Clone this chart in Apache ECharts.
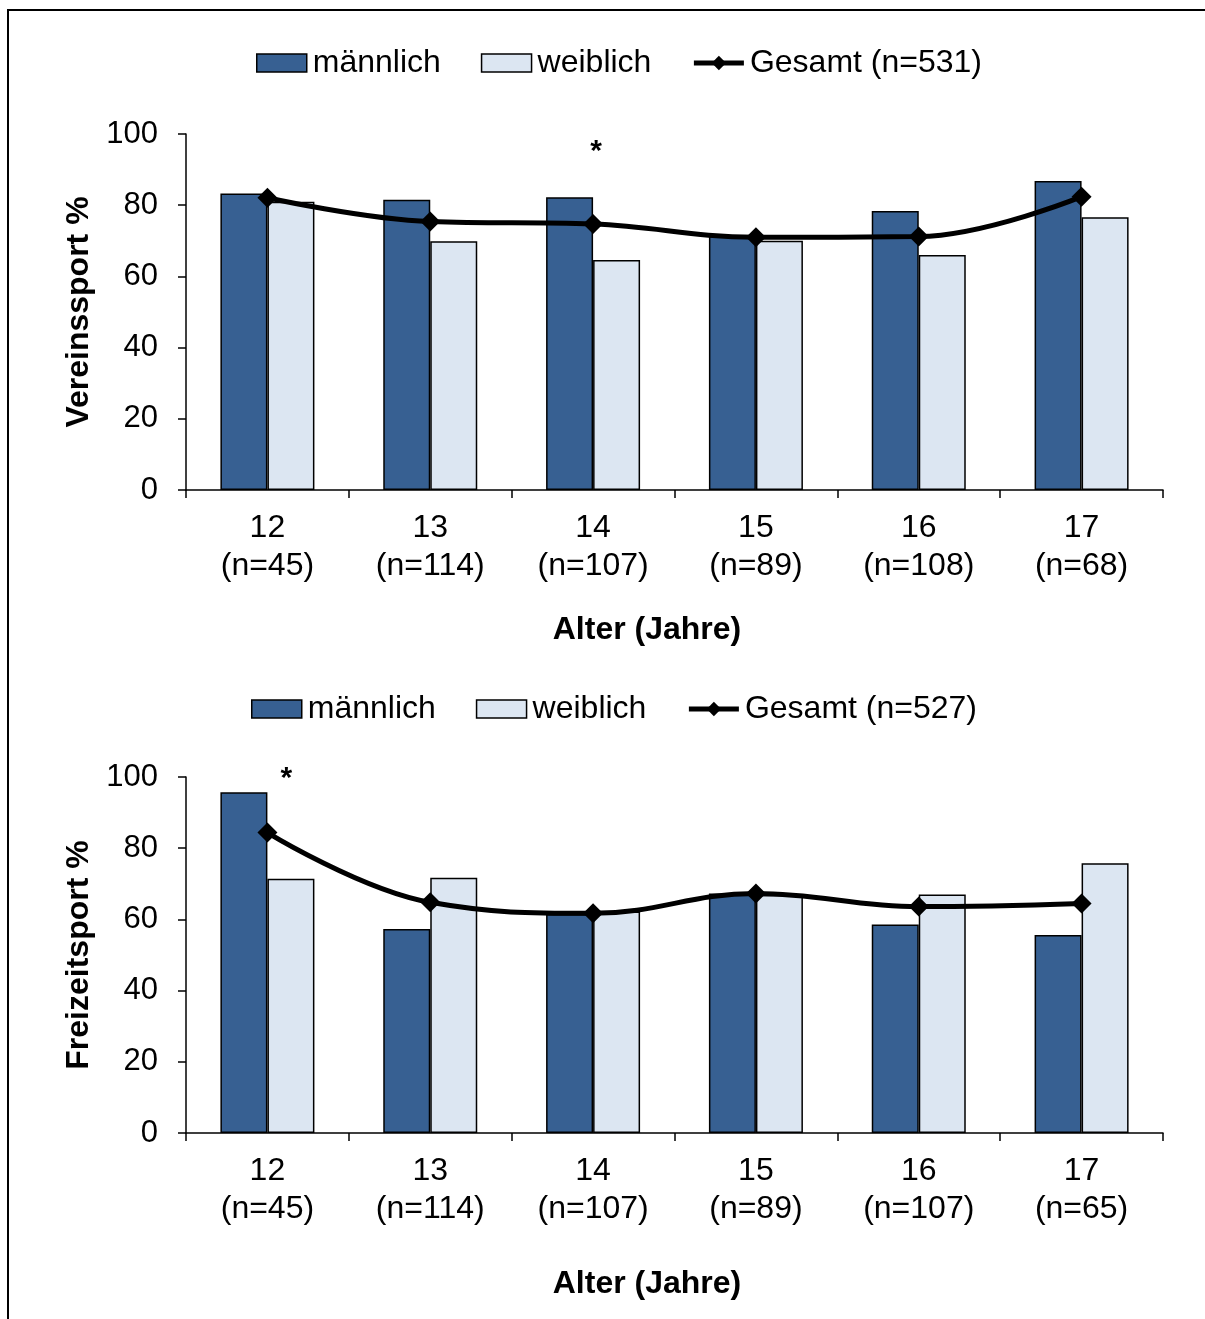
<!DOCTYPE html>
<html>
<head>
<meta charset="utf-8">
<script src="https://cdn.jsdelivr.net/npm/echarts@6/dist/echarts.min.js"></script>
<style>
html,body{margin:0;padding:0;background:#fff;}
#c{width:1205px;height:1319px;}
#frame{position:absolute;left:7px;top:9px;width:1300px;height:1400px;border-left:2px solid #000;border-top:2px solid #000;pointer-events:none;}
</style>
</head>
<body>
<div id="c"></div>
<div id="frame"></div>
<script>
// ---- data ----
const ages = ['12', '13', '14', '15', '16', '17'];
const nVerein = [45, 114, 107, 89, 108, 68];
const nFreizeit = [45, 114, 107, 89, 107, 65];

const vereinMaennlich = [83.3, 81.5, 82.2, 71.5, 78.4, 86.8];
const vereinWeiblich = [81.0, 69.9, 64.6, 70.0, 66.0, 76.6];
const vereinGesamt = [82.1, 75.4, 74.7, 71.0, 71.2, 82.4];

const freizeitMaennlich = [95.7, 57.3, 61.5, 67.3, 58.6, 55.6];
const freizeitWeiblich = [71.4, 71.7, 62.2, 66.9, 67.0, 75.8];
const freizeitGesamt = [84.4, 64.8, 61.7, 67.3, 63.6, 64.5];

const yTicks = [0, 20, 40, 60, 80, 100];
const nameGesamtTop = 'Gesamt (n=531)';
const nameGesamtBottom = 'Gesamt (n=527)';

// ---- styles ----
const FONT = '"Liberation Sans", Arial, sans-serif';
const MALE = '#376092';
const FEMALE = '#DCE6F2';

const catsTop = ages.map((a, i) => a + '\n(n=' + nVerein[i] + ')');
const catsBottom = ages.map((a, i) => a + '\n(n=' + nFreizeit[i] + ')');

function xAxisFor(gridIndex, cats, gap) {
  return {
    type: 'category', gridIndex: gridIndex, data: cats, boundaryGap: true,
    axisLine: {show: true, lineStyle: {color: '#000', width: 1.5}},
    axisTick: {show: true, length: 8, lineStyle: {color: '#000', width: 1.5}, alignWithLabel: false},
    axisLabel: {color: '#000', fontFamily: FONT, fontSize: 32, lineHeight: 38, margin: 19},
    name: 'Alter (Jahre)', nameLocation: 'middle', nameGap: gap,
    nameTextStyle: {color: '#000', fontFamily: FONT, fontSize: 32, fontWeight: 'bold', padding: [0, 55, 0, 0]}
  };
}
function yAxisFor(gridIndex, name) {
  return {
    type: 'value', gridIndex: gridIndex, min: yTicks[0], max: yTicks[yTicks.length - 1], interval: 20,
    axisLine: {show: true, lineStyle: {color: '#000', width: 1.5}},
    axisTick: {show: true, length: 8, lineStyle: {color: '#000', width: 1.5}},
    splitLine: {show: false},
    axisLabel: {color: '#000', fontFamily: FONT, fontSize: 31, margin: 28},
    name: name, nameLocation: 'middle', nameGap: 85, nameRotate: 90,
    nameTextStyle: {color: '#000', fontFamily: FONT, fontSize: 32, fontWeight: 'bold'}
  };
}
function barSeries(name, data, color, idx) {
  return {
    type: 'bar', name: name, data: data, xAxisIndex: idx, yAxisIndex: idx,
    barWidth: 47, barGap: '0%',
    itemStyle: {color: color, borderColor: '#000', borderWidth: 1.5},
    emphasis: {disabled: true}
  };
}
function lineSeries(name, data, idx, star) {
  return {
    type: 'line', name: name, data: data, xAxisIndex: idx, yAxisIndex: idx,
    smooth: 0.4, symbol: 'diamond', symbolSize: 20, z: 5,
    lineStyle: {color: '#000', width: 5},
    itemStyle: {color: '#000'},
    emphasis: {disabled: true},
    markPoint: {
      symbol: 'circle', symbolSize: 1, itemStyle: {color: 'rgba(0,0,0,0)'},
      label: {show: true, formatter: '*', color: '#000', fontFamily: FONT, fontSize: 30, fontWeight: 'bold', offset: star.offset},
      data: [{coord: star.coord}]
    }
  };
}
function legendFor(top, left, gesamtName) {
  return {
    top: top, left: left, orient: 'horizontal',
    itemWidth: 50, itemHeight: 18, itemGap: 40,
    textStyle: {color: '#000', fontFamily: FONT, fontSize: 32, padding: [0, 0, 0, 1]},
    data: [
      {name: 'männlich', icon: 'rect', itemStyle: {color: MALE, borderColor: '#000', borderWidth: 1.5}},
      {name: 'weiblich', icon: 'rect', itemStyle: {color: FEMALE, borderColor: '#000', borderWidth: 1.5}},
      {name: gesamtName, lineStyle: {color: '#000', width: 5}, itemStyle: {color: '#000'}}
    ],
    selectedMode: false
  };
}

const option = {
  backgroundColor: '#fff',
  animation: false,
  legend: [legendFor(42, 251, nameGesamtTop), legendFor(688, 246, nameGesamtBottom)],
  grid: [
    {left: 186, right: 42, top: 134, height: 356},
    {left: 186, right: 42, top: 777, height: 356}
  ],
  xAxis: [xAxisFor(0, catsTop, 124), xAxisFor(1, catsBottom, 135)],
  yAxis: [yAxisFor(0, 'Vereinssport %'), yAxisFor(1, 'Freizeitsport %')],
  series: [
    barSeries('männlich', vereinMaennlich, MALE, 0),
    barSeries('weiblich', vereinWeiblich, FEMALE, 0),
    lineSeries(nameGesamtTop, vereinGesamt, 0, {coord: [2, 95], offset: [3, 0]}),
    barSeries('männlich', freizeitMaennlich, MALE, 1),
    barSeries('weiblich', freizeitWeiblich, FEMALE, 1),
    lineSeries(nameGesamtBottom, freizeitGesamt, 1, {coord: [0, 99.5], offset: [19, 0]})
  ]
};

const chart = echarts.init(document.getElementById('c'), null, {renderer: 'canvas'});
chart.setOption(option);
</script>
</body>
</html>
